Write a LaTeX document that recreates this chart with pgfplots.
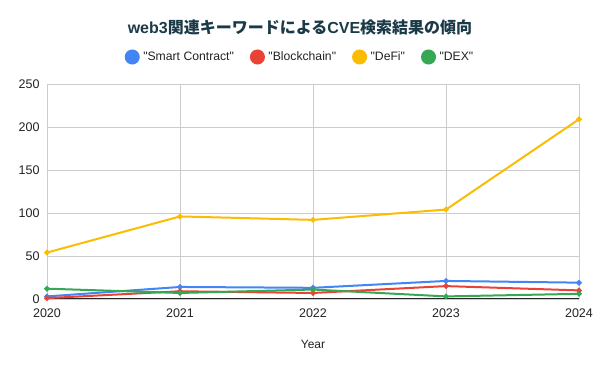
\documentclass[border=0pt]{standalone}
\usepackage{pgfplots}
\pgfplotsset{compat=1.18}
\usepackage{fontspec}
\setmainfont{Liberation Sans}[Ligatures=TeXOff]
\newfontfamily\cjk{Noto Sans CJK JP}
\definecolor{cBlue}{HTML}{4285F4}
\definecolor{cRed}{HTML}{EA4335}
\definecolor{cYellow}{HTML}{FBBC04}
\definecolor{cGreen}{HTML}{34A853}
\definecolor{cTitle}{HTML}{1B3A47}
\definecolor{cGrid}{HTML}{CCCCCC}
\definecolor{cText}{HTML}{222222}
\begin{document}
\begin{tikzpicture}[x=1pt,y=1pt]
\path[use as bounding box] (0,0) rectangle (600,371);
\begin{axis}[
  at={(47pt,72pt)}, anchor=south west,
  scale only axis, width=532pt, height=215pt,
  xmin=2020, xmax=2024, ymin=0, ymax=250,
  xtick={2020,2021,2022,2023,2024},
  ytick={0,50,100,150,200,250},
  xticklabel style={/pgf/number format/1000 sep={}, yshift=-6pt},
  yticklabel style={xshift=-4pt},
  /pgf/number format/assume math mode=true,
  tick label style={font=\fontsize{12.5}{14}\selectfont, text=cText},
  xtick style={draw=none}, ytick style={draw=none},
  grid=major, major grid style={cGrid, line width=0.8pt},
  axis line style={draw=none},
  xlabel={Year}, xlabel style={font=\fontsize{12}{14}\selectfont, text=cText, at={(axis description cs:0.5,0)}, anchor=north, yshift=-38pt},
  clip=false,
  legend columns=4,
  legend style={draw=none, fill=none, at={(axis description cs:0.4756,1.1256)}, anchor=center,
    font=\fontsize{12.2}{14}\selectfont, text=cText,
    /tikz/every even column/.append style={column sep=14pt}},
  legend image code/.code={\fill[#1] (0pt,0pt) circle (6.5pt); \path[draw=none,fill=none] (0pt,0pt) -- (9pt,0pt);},
  every axis plot/.append style={line width=2pt, mark=*, mark size=1.7pt},
]
\draw[black!85, line width=1pt] (axis cs:2020,0) -- (axis cs:2024,0);
\addplot[cBlue, mark options={fill=cBlue}] coordinates {(2020,3) (2021,14) (2022,13) (2023,21) (2024,19)};
\addlegendentry{"Smart Contract"}
\addplot[cRed, mark options={fill=cRed}] coordinates {(2020,1) (2021,9) (2022,7) (2023,15) (2024,10)};
\addlegendentry{"Blockchain"}
\addplot[cYellow, mark options={fill=cYellow}] coordinates {(2020,54) (2021,96) (2022,92) (2023,104) (2024,209)};
\addlegendentry{"DeFi"}
\addplot[cGreen, mark options={fill=cGreen}] coordinates {(2020,12) (2021,7) (2022,11) (2023,3) (2024,6)};
\addlegendentry{"DEX"}
\end{axis}
\node[font=\fontsize{16}{18}\selectfont\bfseries, text=cTitle] at (300,344) {web3{\cjk\bfseries 関連キーワードによる}CVE{\cjk\bfseries 検索結果の傾向}};
\end{tikzpicture}
\end{document}
